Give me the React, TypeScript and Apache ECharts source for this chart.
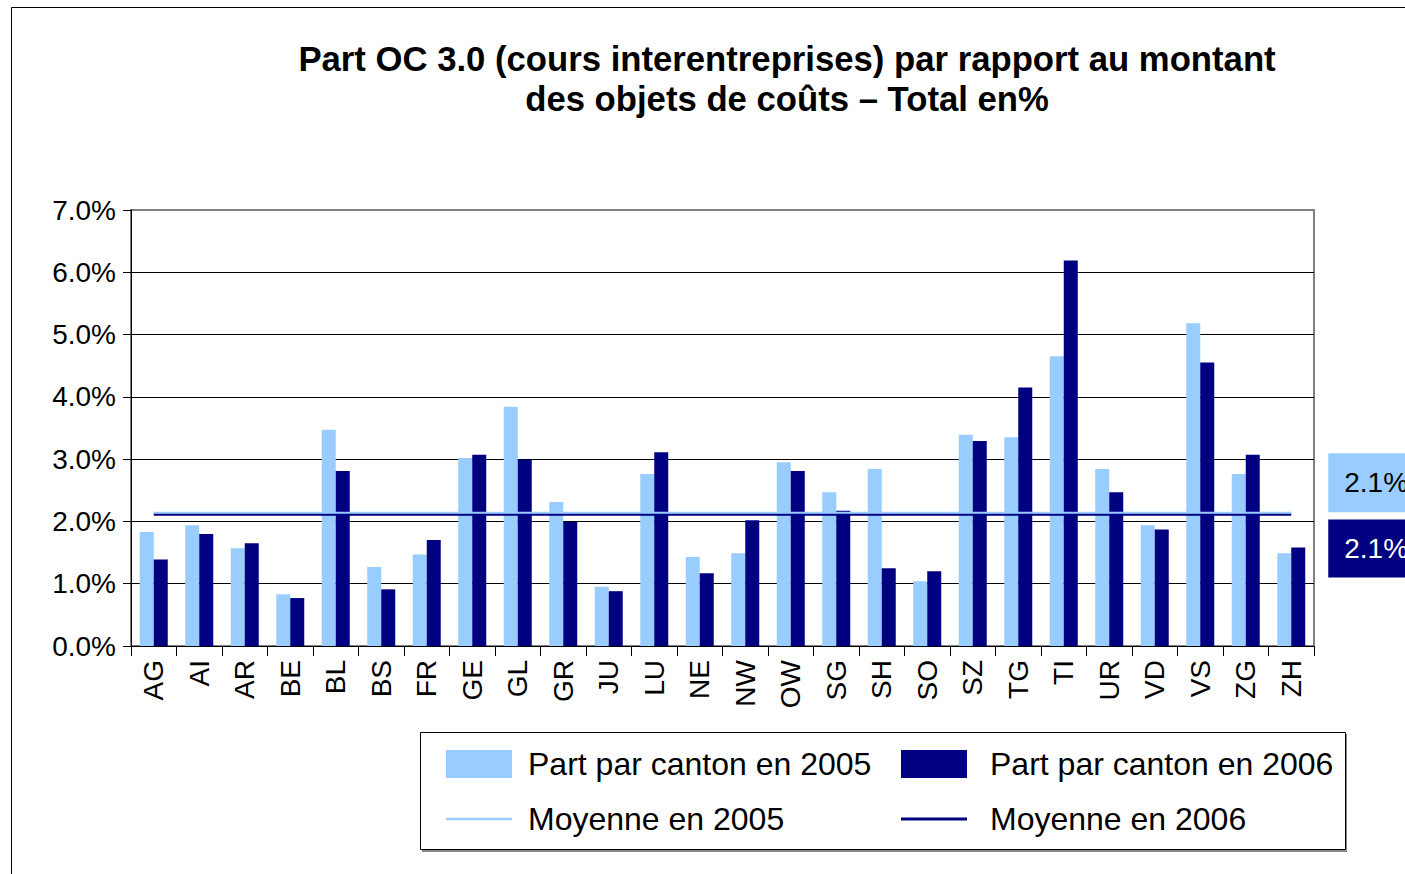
import React, { useEffect, useRef } from "react";
import * as echarts from "echarts";

const categories = ["AG","AI","AR","BE","BL","BS","FR","GE","GL","GR","JU","LU","NE","NW","OW","SG","SH","SO","SZ","TG","TI","UR","VD","VS","ZG","ZH"];
const part2005 = [1.83,1.94,1.57,0.83,3.47,1.27,1.47,3.02,3.84,2.31,0.95,2.76,1.43,1.49,2.95,2.47,2.84,1.04,3.39,3.35,4.65,2.84,1.94,5.18,2.76,1.49];
const part2006 = [1.39,1.80,1.65,0.77,2.81,0.91,1.70,3.07,2.99,1.99,0.88,3.11,1.17,2.02,2.81,2.17,1.25,1.20,3.29,4.15,6.19,2.47,1.87,4.55,3.07,1.58];
const moyenne2005 = 2.14;
const moyenne2006 = 2.11;
const yTicks = [0, 1, 2, 3, 4, 5, 6, 7];

const FONT = "'Liberation Sans', Arial, sans-serif";
const LIGHT = "#99CCFF";
const DARK = "#000080";

export default function App() {
  const ref = useRef<HTMLDivElement>(null);
  useEffect(() => {
    document.body.style.margin = "0";
    const chart = echarts.init(ref.current!, null, { renderer: "svg" });
    const avg05 = categories.map(() => moyenne2005);
    const avg06 = categories.map(() => moyenne2006);
    const legendText1 = { fontFamily: FONT, fontSize: 32, color: "#000", padding: [0, 0, 0, 11] };
    const legendText2 = { fontFamily: FONT, fontSize: 32, color: "#000", padding: [0, 0, 0, 18] };
    chart.setOption({
      animation: false,
      backgroundColor: "#fff",
      textStyle: { fontFamily: FONT },
      title: {
        text: "Part OC 3.0 (cours interentreprises) par rapport au montant\ndes objets de coûts – Total en%",
        left: 787,
        textAlign: "center",
        top: 39,
        padding: 0,
        textStyle: { fontFamily: FONT, fontSize: 34.7, fontWeight: "bold", lineHeight: 40, color: "#000" },
      },
      graphic: [
        { type: "rect", z: 0, shape: { x: 11.5, y: 7.5, width: 1500, height: 1000 }, style: { fill: "none", stroke: "#000", lineWidth: 1 } },
        { type: "rect", z: 0, shape: { x: 422, y: 734, width: 925, height: 118 }, style: { fill: "#888", stroke: "none" } },
        { type: "rect", z: 0, shape: { x: 420.5, y: 732.5, width: 925, height: 117 }, style: { fill: "#fff", stroke: "#000", lineWidth: 1 } },
      ],
      legend: [
        {
          orient: "vertical",
          left: 446,
          top: 748,
          itemWidth: 66,
          itemHeight: 28,
          itemGap: 23,
          padding: 0,
          data: [
            { name: "Part par canton en 2005", icon: "rect" },
            { name: "Moyenne en 2005", icon: "path://M0,0 L66,0 L66,2.5 L0,2.5 Z" },
          ],
          textStyle: legendText1,
        },
        {
          orient: "vertical",
          left: 901,
          top: 748,
          itemWidth: 66,
          itemHeight: 28,
          itemGap: 23,
          padding: 0,
          data: [
            { name: "Part par canton en 2006", icon: "rect" },
            { name: "Moyenne en 2006", icon: "path://M0,0 L66,0 L66,3 L0,3 Z" },
          ],
          textStyle: legendText2,
        },
      ],
      grid: { left: 131, right: 91, top: 210, bottom: 228, show: true, borderColor: "#808080", borderWidth: 2, backgroundColor: "transparent" },
      xAxis: {
        type: "category",
        data: categories,
        axisLine: { lineStyle: { color: "#000", width: 1 } },
        axisTick: { show: true, length: 10, lineStyle: { color: "#000" } },
        axisLabel: { interval: 0, rotate: 90, fontSize: 28, color: "#000", margin: 14, fontFamily: FONT },
      },
      yAxis: {
        type: "value",
        min: yTicks[0],
        max: yTicks[yTicks.length - 1],
        interval: 1,
        axisLine: { show: true, lineStyle: { color: "#000", width: 1 } },
        axisTick: { show: true, length: 8, lineStyle: { color: "#000" } },
        axisLabel: { fontSize: 28, color: "#000", margin: 15, fontFamily: FONT, formatter: (v: number) => v.toFixed(1) + "%" },
        splitLine: { show: true, showMaxLine: false, lineStyle: { color: "#000", width: 1 } },
      },
      series: [
        { name: "Part par canton en 2005", type: "bar", data: part2005, barWidth: 14, barGap: "0%", itemStyle: { color: LIGHT } },
        { name: "Part par canton en 2006", type: "bar", data: part2006, barWidth: 14, barGap: "0%", itemStyle: { color: DARK } },
        {
          name: "Moyenne en 2006", type: "line", data: avg06, symbol: "none", z: 5,
          lineStyle: { color: DARK, width: 2.5 }, itemStyle: { color: DARK },
          endLabel: {
            show: true, formatter: (p: any) => Number(p.value).toFixed(1) + "%", distance: 37, offset: [0, 34],
            fontSize: 28, color: "#fff", backgroundColor: DARK, padding: [15, 20, 15, 16], fontFamily: FONT,
          },
        },
        {
          name: "Moyenne en 2005", type: "line", data: avg05, symbol: "none", z: 6,
          lineStyle: { color: LIGHT, width: 2 }, itemStyle: { color: LIGHT },
          endLabel: {
            show: true, formatter: (p: any) => Number(p.value).toFixed(1) + "%", distance: 37, offset: [0, -30],
            fontSize: 28, color: "#000", backgroundColor: LIGHT, padding: [15, 20, 16, 16], fontFamily: FONT,
          },
        },
      ],
    });
    return () => chart.dispose();
  }, []);
  return <div ref={ref} style={{ width: 1405, height: 874 }} />;
}
